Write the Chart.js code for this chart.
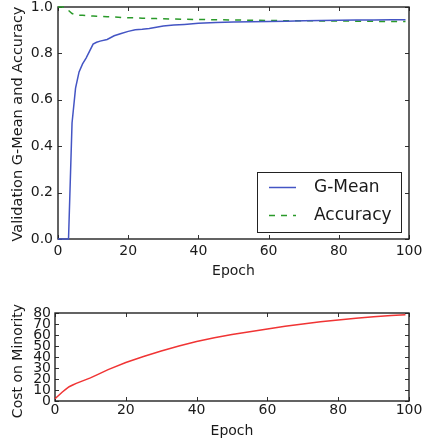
<!DOCTYPE html>
<html>
<head>
<meta charset="utf-8">
<script src="https://cdn.jsdelivr.net/npm/chart.js@4.4.1/dist/chart.umd.min.js"></script>
<style>
body{margin:0;background:#fff;}
canvas{position:absolute;left:0;}
#top{top:0;}
#bottom{top:290px;}
</style>
</head>
<body>
<canvas id="top" width="426" height="290"></canvas>
<canvas id="bottom" width="426" height="155"></canvas>
<script>
// data
const epochs = [0,1,2,3,4,5,6,7,8,9,10,11,12,14,16,18,20,22,24,26,28,30,33,36,40,45,50,55,60,65,70,75,80,85,90,95,99];
const gMean = [0,0,0,0,0.5,0.65,0.72,0.755,0.78,0.81,0.84,0.848,0.853,0.86,0.876,0.886,0.895,0.902,0.904,0.907,0.913,0.918,0.922,0.925,0.93,0.933,0.935,0.936,0.938,0.939,0.941,0.942,0.943,0.944,0.944,0.945,0.945];
const accuracy = [1,1,1,0.985,0.972,0.967,0.965,0.964,0.963,0.962,0.961,0.96,0.96,0.958,0.957,0.955,0.954,0.953,0.952,0.951,0.95,0.949,0.948,0.947,0.946,0.945,0.944,0.943,0.942,0.941,0.941,0.94,0.94,0.939,0.938,0.938,0.937];

const costEpochs = [0,1,2,3,4,5,6,8,10,12,15,20,25,30,35,40,45,50,55,60,65,70,75,80,85,90,95,99];
const costMinority = [2,5,8,10.5,13,14.5,16,18.5,21,24,28.5,35,40.5,45.5,50,54,57.5,60.5,63,65.5,68,70,72,73.7,75.3,76.5,77.7,78.5];

const epochTicks = [0,20,40,60,80,100];
const scoreTicks = [0,0.2,0.4,0.6,0.8,1.0];
const costTicks = [0,10,20,30,40,50,60,70,80];

const FONT = '"DejaVu Sans", sans-serif';
const TXT = '#1a1a1a';

function pairs(xs, ys){ return xs.map((x,i) => ({x:x, y:ys[i]})); }

// frame, inward ticks and rotated y title, matplotlib style (drawn under the lines)
const framePlugin = {
  id: 'frame',
  beforeDatasetsDraw(chart, args, opts) {
    const ctx = chart.ctx, a = chart.chartArea, sx = chart.scales.x, sy = chart.scales.y;
    ctx.save();
    ctx.strokeStyle = '#333';
    ctx.lineWidth = 1;
    ctx.beginPath();
    sx.ticks.forEach(t => {
      const px = Math.round(sx.getPixelForValue(t.value)) + 0.5;
      ctx.moveTo(px, a.top); ctx.lineTo(px, a.top + 4);
      ctx.moveTo(px, a.bottom); ctx.lineTo(px, a.bottom - 4);
    });
    sy.ticks.forEach(t => {
      const py = Math.round(sy.getPixelForValue(t.value)) + 0.5;
      ctx.moveTo(a.left, py); ctx.lineTo(a.left + 4, py);
      ctx.moveTo(a.right, py); ctx.lineTo(a.right - 4, py);
    });
    ctx.stroke();
    ctx.lineWidth = 1.4;
    ctx.strokeStyle = '#222';
    ctx.strokeRect(a.left, a.top, a.right - a.left, a.bottom - a.top);

    ctx.translate(opts.titleX, (a.top + a.bottom) / 2 + (opts.titleShift || 0));
    ctx.rotate(-Math.PI / 2);
    ctx.font = opts.size + 'px ' + FONT;
    ctx.fillStyle = TXT;
    ctx.textAlign = 'center';
    ctx.textBaseline = 'middle';
    ctx.fillText(opts.text, 0, 0);
    ctx.restore();
  }
};

// legend box inside the plot
const boxLegend = {
  id: 'boxLegend',
  afterDraw(chart, args, opts) {
    if (!opts.show) return;
    const ctx = chart.ctx;
    ctx.save();
    ctx.fillStyle = '#fff';
    ctx.fillRect(257, 172, 144, 60);
    ctx.strokeStyle = '#222';
    ctx.lineWidth = 1;
    ctx.strokeRect(257.5, 172.5, 144, 60);
    ctx.font = '17px ' + FONT;
    ctx.textBaseline = 'middle';
    chart.data.datasets.forEach((ds, i) => {
      const y = 187 + i * 28;
      ctx.beginPath();
      ctx.strokeStyle = ds.borderColor;
      ctx.lineWidth = ds.borderWidth;
      ctx.setLineDash(ds.borderDash || []);
      ctx.moveTo(269, y + 0.5); ctx.lineTo(296, y + 0.5);
      ctx.stroke();
      ctx.setLineDash([]);
      ctx.fillStyle = TXT;
      ctx.fillText(ds.label, 314, y + 1);
    });
    ctx.restore();
  }
};

function makeScales(yTicks, yMax, yFmt, yWidth, xHeight, xPad, yPad) {
  return {
    x: {
      type: 'linear', min: 0, max: 100,
      afterBuildTicks: s => { s.ticks = epochTicks.map(v => ({value: v})); },
      afterFit: s => { s.height = xHeight; s.paddingLeft = 0; s.paddingRight = 0; },
      grid: {display: false, drawTicks: false}, border: {display: false},
      ticks: {color: TXT, font: {family: FONT, size: 14}, padding: xPad, maxRotation: 0, autoSkip: false},
      title: {display: true, text: 'Epoch', color: TXT, font: {family: FONT, size: 14}, padding: {top: 0, bottom: 0}}
    },
    y: {
      type: 'linear', min: 0, max: yMax,
      afterBuildTicks: s => { s.ticks = yTicks.map(v => ({value: v})); },
      afterFit: s => { s.width = yWidth; s.paddingTop = 0; s.paddingBottom = 0; },
      grid: {display: false, drawTicks: false}, border: {display: false},
      ticks: {color: TXT, font: {family: FONT, size: 14}, padding: yPad, callback: yFmt, autoSkip: false}
    }
  };
}

new Chart(document.getElementById('top'), {
  type: 'line',
  data: {
    datasets: [{
      label: 'G-Mean',
      data: pairs(epochs, gMean),
      borderColor: '#4455c4',
      borderWidth: 1.5,
      pointRadius: 0,
      tension: 0,
      clip: 2
    }, {
      label: 'Accuracy',
      data: pairs(epochs, accuracy),
      borderColor: '#2a9a2a',
      borderWidth: 1.5,
      borderDash: [6, 6],
      pointRadius: 0,
      tension: 0,
      clip: 2
    }]
  },
  options: {
    responsive: false,
    animation: false,
    layout: {padding: {top: 7, right: 17, left: 0, bottom: 10}},
    plugins: {
      legend: {display: false},
      tooltip: {enabled: false},
      frame: {text: 'Validation G-Mean and Accuracy', titleX: 18, titleShift: 1, size: 14.5},
      boxLegend: {show: true}
    },
    scales: makeScales(scoreTicks, 1, v => v.toFixed(1), 58, 41, 4, 5)
  },
  plugins: [framePlugin, boxLegend]
});

new Chart(document.getElementById('bottom'), {
  type: 'line',
  data: {
    datasets: [{
      label: 'Cost on Minority',
      data: pairs(costEpochs, costMinority),
      borderColor: '#f03434',
      borderWidth: 1.5,
      pointRadius: 0,
      tension: 0,
      clip: 2
    }]
  },
  options: {
    responsive: false,
    animation: false,
    layout: {padding: {top: 23, right: 17, left: 0, bottom: 5}},
    plugins: {
      legend: {display: false},
      tooltip: {enabled: false},
      frame: {text: 'Cost on Minority', titleX: 18, titleShift: 4, size: 14},
      boxLegend: {show: false}
    },
    scales: makeScales(costTicks, 80, v => v, 55, 39, 1, 4)
  },
  plugins: [framePlugin, boxLegend]
});
</script>
</body>
</html>
